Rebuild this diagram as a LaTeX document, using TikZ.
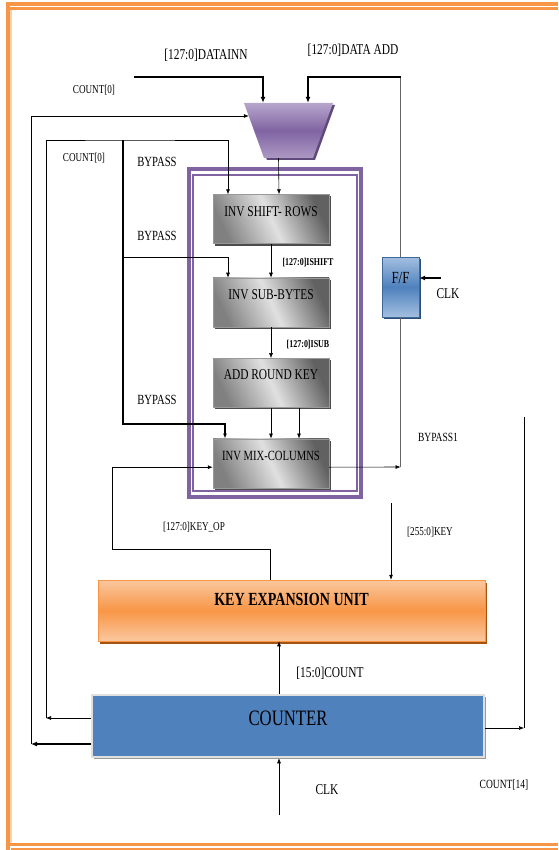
\documentclass[tikz,border=0pt]{standalone}
\usepackage{fontspec}
\setmainfont{Liberation Serif}[FakeStretch=0.76]
\usepackage{tikz}
\usetikzlibrary{arrows.meta,positioning,shadows}
\definecolor{frameor}{HTML}{F79646}
\definecolor{framelt}{HTML}{F5D3B0}
\definecolor{muxlt}{HTML}{B7A6CC}
\definecolor{muxdk}{HTML}{8064A2}
\definecolor{muxsh}{HTML}{5F497A}
\definecolor{corepurp}{HTML}{8064A2}
\definecolor{fflt}{HTML}{A3BFE0}
\definecolor{ffdk}{HTML}{4F81BD}
\definecolor{ffsh}{HTML}{2C4D75}
\definecolor{keylt}{HTML}{FBC79E}
\definecolor{keydk}{HTML}{F79646}
\definecolor{keysh}{HTML}{A5530F}
\definecolor{cntblue}{HTML}{4F81BD}
\newcommand{\fsz}[1]{\fontsize{#1}{#1}\selectfont}

\begin{document}
\begin{tikzpicture}[x=1pt,y=-1pt,
 lab/.style={font=\fsz{#1},inner sep=0pt},
 small/.style={font=\bfseries\fsz{10.5},inner sep=0pt},
 wire/.style={line width=0.6pt},
 bus/.style={line width=0.6pt,-{Latex[length=5pt,width=4pt]}},
 heavy/.style={line width=1.4pt,-{Latex[length=6pt,width=5pt]}},
 blk/.style={draw=black!40,line width=0.4pt,minimum width=116pt,minimum height=49pt,inner sep=0pt,
   left color=black!50,right color=black!62,middle color=black!12,shading angle=115,
   font=\fsz{15},text height=10pt,text depth=16pt,
   drop shadow={shadow xshift=2pt,shadow yshift=-2pt,opacity=1,fill=black!70}},
 ffbox/.style={draw=ffdk!80!black,line width=0.4pt,minimum width=37pt,minimum height=60pt,inner sep=0pt,
   top color=fflt,bottom color=fflt,middle color=ffdk,font=\fsz{17},text height=12pt,text depth=20pt,
   drop shadow={shadow xshift=2pt,shadow yshift=-2pt,opacity=1,fill=ffsh}},
 keybox/.style={draw=keydk,line width=0.5pt,minimum width=387pt,minimum height=61pt,inner sep=0pt,
   top color=keylt,bottom color=keylt,middle color=keydk,font=\bfseries\fsz{18.5},text height=13pt,text depth=24pt,
   drop shadow={shadow xshift=2pt,shadow yshift=-2.5pt,opacity=1,fill=keysh}},
 cntbox/.style={draw=black!12,line width=2.5pt,fill=cntblue,minimum width=392pt,minimum height=62pt,inner sep=0pt,
   font=\fsz{22},text height=15pt,text depth=16pt,
   drop shadow={shadow xshift=1.5pt,shadow yshift=-1.5pt,opacity=1,fill=black!40}}
]
\useasboundingbox (0,0) rectangle (558,850);
% page frame
\draw[frameor,line width=4pt] (7.5,850) -- (7.5,4) -- (558,4);
\draw[frameor,line width=2.4pt] (10,8.5) -- (558,8.5);
\draw[framelt,line width=2pt] (10.5,10) -- (10.5,846);
\draw[frameor,line width=3.5pt] (9.5,844.5) -- (558,844.5);
\draw[frameor,line width=2.5pt] (11,849) -- (558,849);
% decryption core
\draw[corepurp,line width=4pt] (189,169.5) rectangle (361,496.5);
\draw[corepurp,line width=1.2pt] (193,175) rectangle (357,491);

% mux
\fill[muxsh] (246,105) -- (335,105) -- (315,160) -- (267,160) -- cycle;
\shade[top color=muxlt,bottom color=muxlt!80!muxdk,middle color=muxdk] (244,103) -- (333,103) -- (313,158) -- (264,158) -- cycle;
\node[minimum width=89pt,minimum height=55pt,inner sep=0pt] (mux) at (288.5,130.5) {};
\coordinate (muxin) at (248.8,116);

\node[blk] (isr) at (271,219) {INV SHIFT- ROWS};
\node[blk,below=34pt of isr] (isb) {INV SUB-BYTES};
\node[blk,below=31pt of isb] (ark) {ADD ROUND KEY};
\node[blk,below=31pt of ark,font=\fsz{14}] (imc) {INV MIX-COLUMNS};
\node[ffbox] (ff) at (400.5,287) {F/F};
\node[keybox] (key) at (291.5,610.5) {KEY EXPANSION UNIT};
\node[cntbox] (cnt) at (288,726) {COUNTER};

\coordinate (dinn) at (134,77);
\coordinate (dadd) at (400.5,77);
\coordinate (c0a) at (31,744);
\coordinate (c0b) at (46,718);
\coordinate (byp) at (123,140);
\coordinate (byp1) at (123,257);
\coordinate (byp2) at (123,424);
\coordinate (ffin) at (400.5,467);
\coordinate (kop) at (112,549);
\coordinate (kin) at (391,503);
\coordinate (clk) at (279,815);
\coordinate (c14) at (524,728);
\coordinate (c14t) at (524,417);
\coordinate (fclk) at (441,278);

% data path
\draw[heavy] (dinn) -| ([xshift=-25.5pt]mux.north);
\draw[wire,black!60] (ff.north) -- (dadd);
\draw[heavy] (dadd) -| ([xshift=19.5pt]mux.north);
\draw[heavy] ([yshift=-18pt]cnt.west) -- (c0a);
\draw[bus] (c0a) |- (muxin);
\draw[bus] ([yshift=8pt]cnt.west) -- (c0b);
\draw[bus] (c0b) |- (byp) -| ([xshift=-43pt]isr.north);
\draw[bus] (byp1) -| ([xshift=-43pt]isb.north);
\draw[bus,line width=1.2pt] (byp) -- (byp2) -| ([xshift=-46pt]imc.north);
\draw[bus] ([xshift=-10pt]mux.south) -- ([xshift=8pt]isr.north);
\draw[bus] (isr) -- (isb);
\draw[bus] (isb) -- (ark);
\draw[bus] (ark) -- (imc);
\draw[bus] ([xshift=28pt]ark.south) -- ([xshift=28pt]imc.north);
\draw[bus] ([yshift=-4pt]imc.east) -- (ffin);
\draw[wire,black!60] (ff.south) -- (ffin);
\draw[bus] ([xshift=-21.5pt]key.north) |- (kop) |- ([yshift=-4pt]imc.west);
\draw[bus] (kin) -- (kin |- key.north);
\draw[bus] ([xshift=-9pt]cnt.north) -- ([xshift=-9pt]cnt.north |- key.south);
\draw[bus] (clk) -- (clk |- cnt.south);
\draw[bus] ([yshift=-2pt]cnt.east) -- (c14);
\draw[wire] (c14t) -- (c14);
\draw[heavy] (fclk) -- (fclk -| ff.east);

% labels
\node[lab=15] (tdin) at (206,55) {[127:0]DATAINN};
\node[lab=15] (tdad) at (353,50) {[127:0]DATA ADD};
\node[lab=12] (tc0a) at (94,90) {COUNT[0]};
\node[lab=12] (tc0b) at (84,158) {COUNT[0]};
\node[lab=14] (tbp0) at (157,162) {BYPASS};
\node[lab=14] (tbp1) at (157,236) {BYPASS};
\node[lab=14] (tbp2) at (157,400) {BYPASS};
\node[small] (tish) at (308,263) {[127:0]ISHIFT};
\node[small] (tisb) at (308,345) {[127:0]ISUB};
\node[lab=12.5] (tbp3) at (438,437) {BYPASS1};
\node[lab=12] (tkop) at (194,527) {[127:0]KEY\_OP};
\node[lab=12] (tkey) at (430,532) {[255:0]KEY};
\node[lab=15] (tcnt) at (330,673) {[15:0]COUNT};
\node[lab=15] (tclk) at (327,790) {CLK};
\node[lab=12.5] (tc14) at (504,785) {COUNT[14]};
\node[lab=15] (tfck) at (448,294) {CLK};
\end{tikzpicture}
\end{document}
